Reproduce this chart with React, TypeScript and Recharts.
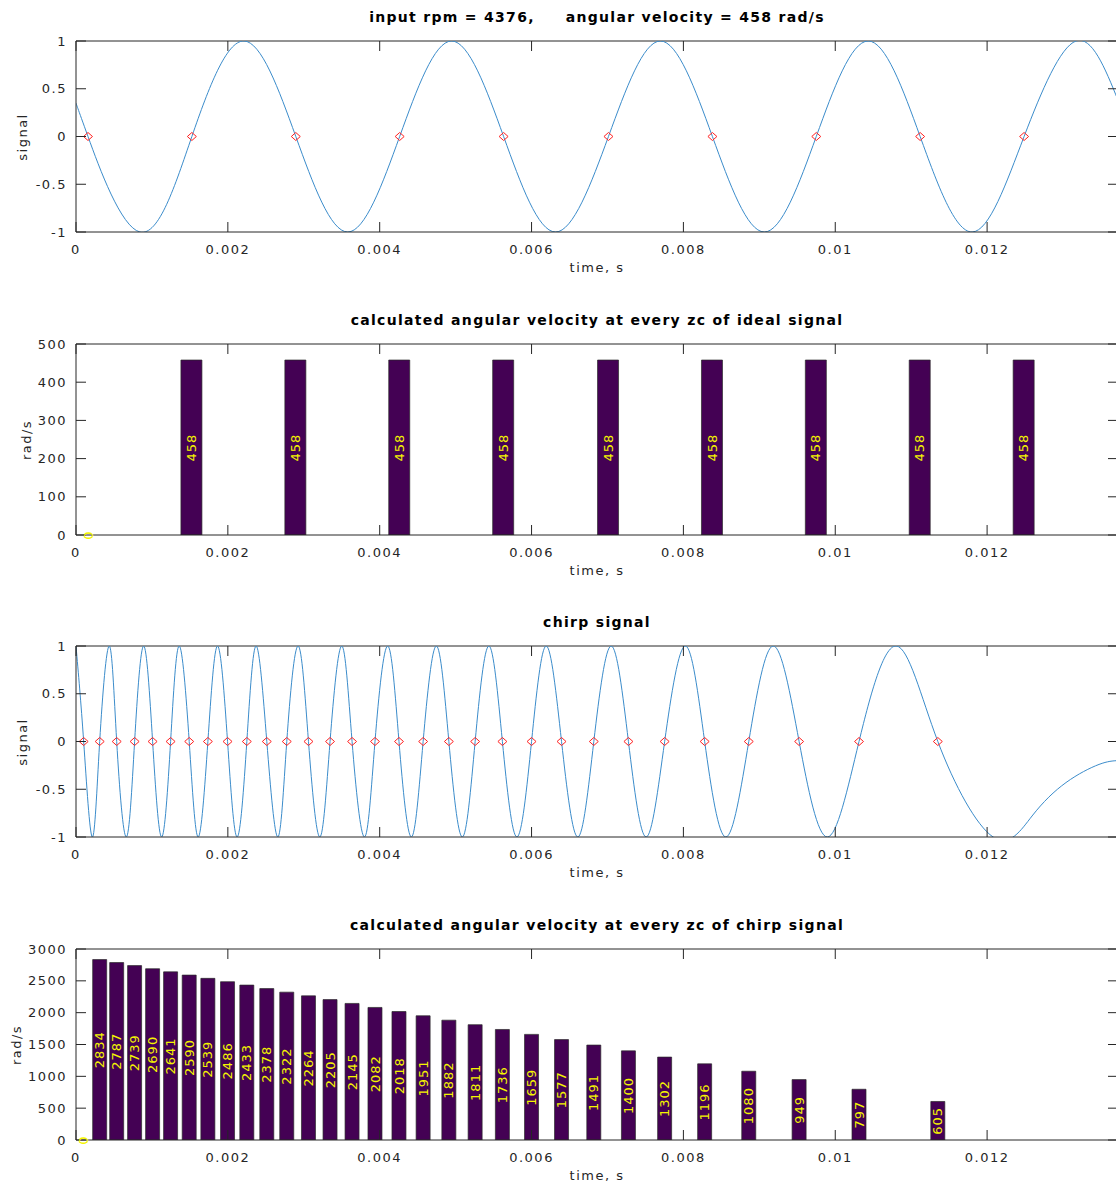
import React from "react";
import {
  ComposedChart,
  Line,
  Scatter,
  Bar,
  XAxis,
  YAxis,
  ReferenceLine,
  LabelList,
} from "recharts";

// shared time axis (seconds)
const timeTicks = [0, 0.002, 0.004, 0.006, 0.008, 0.01, 0.012];
const tMax = 0.013724;

// panel 1: ideal signal, extremes + zero crossings
const idealPeakT = [0, 0.000842, 0.002211, 0.003579, 0.004947, 0.006316, 0.007697, 0.009066, 0.010434, 0.011803, 0.013171, 0.013724];
const idealPeakV = [0.35, -1, 1, -1, 1, -1, 1, -1, 1, -1, 1, 0.38];
const idealZcT = [0.000158, 0.001526, 0.002895, 0.004263, 0.005632, 0.007013, 0.008382, 0.00975, 0.011118, 0.012487];
const signalTicks = [-1, -0.5, 0, 0.5, 1];

// panel 2: angular velocity at every zc of the ideal signal
const idealSpeed = [0, 458, 458, 458, 458, 458, 458, 458, 458, 458];
const idealSpeedTicks = [0, 100, 200, 300, 400, 500];

// panel 3: chirp signal
const chirpPeakT = [
  0, 0.000214, 0.000438, 0.000662, 0.000891, 0.001128, 0.001359, 0.001609,
  0.001864, 0.002122, 0.002372, 0.002658, 0.002925, 0.003211, 0.0035, 0.003799,
  0.004105, 0.004417, 0.004746, 0.005088, 0.005438, 0.005807, 0.006193, 0.006609,
  0.007049, 0.007509, 0.008026, 0.008559, 0.009184, 0.009895, 0.010803, 0.012079,
  0.012592, 0.013039, 0.013474, 0.013724,
];
const chirpPeakV = [
  1, -1, 1, -1, 1, -1, 1, -1,
  1, -1, 1, -1, 1, -1, 1, -1,
  1, -1, 1, -1, 1, -1, 1, -1,
  1, -1, 1, -1, 1, -1, 1, -1,
  -0.78, -0.43, -0.24, -0.2,
];
const chirpZcT = [
  0.000101, 0.000312, 0.000536, 0.000772, 0.001009, 0.001246, 0.001491, 0.001737,
  0.001996, 0.00225, 0.002513, 0.002776, 0.003062, 0.003346, 0.003636, 0.003938,
  0.004254, 0.004572, 0.004911, 0.005257, 0.005616, 0.006, 0.006395, 0.00682,
  0.007276, 0.007753, 0.00828, 0.008861, 0.009524, 0.010313, 0.011351,
];

// panel 4: angular velocity at every zc of the chirp
const chirpSpeed = [
  0, 2834, 2787, 2739, 2690, 2641, 2590, 2539, 2486, 2433, 2378, 2322, 2264,
  2205, 2145, 2082, 2018, 1951, 1882, 1811, 1736, 1659, 1577, 1491, 1400, 1302,
  1196, 1080, 949, 797, 605,
];
const chirpSpeedTicks = [0, 500, 1000, 1500, 2000, 2500, 3000];

const AX = "#262626";
const FONT = "DejaVu Sans";
const PLOT_W = 1042;
const PLOT_H = 191;
const MT = 14;
const XAXIS_H = 40;
const CHART_W = 76 + PLOT_W;
const CHART_H = MT + PLOT_H + XAXIS_H;

const textStyle = { fontFamily: FONT, fontSize: 13, letterSpacing: 1.5 };
const labelStyle = { fontFamily: FONT, fontSize: 13, letterSpacing: 1 };

function lineData(pt: number[], pv: number[], zt: number[]) {
  return [
    ...pt.map((t, i) => ({ t, v: pv[i] })),
    ...zt.map((t) => ({ t, v: 0 })),
  ].sort((a, b) => a.t - b.t);
}

const zcData = (zt: number[]) => zt.map((t) => ({ t, v: 0 }));
const barData = (zt: number[], w: number[]) => zt.map((t, i) => ({ t, w: w[i] }));

// inward ticks on both bottom and top borders
function XTick(props: any) {
  const { x, y, payload } = props;
  const axisY = y - 17;
  return (
    <g>
      <line x1={x} x2={x} y1={axisY} y2={axisY - 10} stroke={AX} />
      <line x1={x} x2={x} y1={axisY - PLOT_H} y2={axisY - PLOT_H + 10} stroke={AX} />
      <text x={x} y={y} textAnchor="middle" dominantBaseline="central" fill={AX} style={textStyle}>
        {String(payload.value)}
      </text>
    </g>
  );
}

// inward ticks on left and right borders
function YTick(props: any) {
  const { x, y, payload } = props;
  const axisX = x + 9;
  return (
    <g>
      <line x1={axisX} x2={axisX + 10} y1={y} y2={y} stroke={AX} />
      <line x1={axisX + PLOT_W} x2={axisX + PLOT_W - 10} y1={y} y2={y} stroke={AX} />
      <text x={x} y={y} textAnchor="end" dominantBaseline="central" fill={AX} style={textStyle}>
        {String(payload.value)}
      </text>
    </g>
  );
}

function Diamond(p: any) {
  const { cx, cy } = p;
  return (
    <path
      d={`M${cx - 4.5},${cy} L${cx},${cy - 4} L${cx + 4.5},${cy} L${cx},${cy + 4} Z`}
      fill="none"
      stroke="#ff2020"
      strokeWidth={1}
    />
  );
}

const NoShape = () => <g />;

function Overlay({ top, title, ylabel, ylabelX }: { top: number; title: string; ylabel: string; ylabelX: number }) {
  const base: React.CSSProperties = {
    position: "absolute",
    transform: "translate(-50%, -50%)",
    whiteSpace: "pre",
    lineHeight: 1,
    fontFamily: FONT,
    color: AX,
  };
  return (
    <>
      <div style={{ ...base, left: 597, top: top - 24, fontSize: 14, fontWeight: "bold", letterSpacing: 1.3, color: "#000" }}>
        {title}
      </div>
      <div style={{ ...base, left: 597, top: top + PLOT_H + 35, fontSize: 13, letterSpacing: 1.5 }}>time, s</div>
      <div
        style={{
          ...base,
          left: ylabelX,
          top: top + PLOT_H / 2,
          fontSize: 13,
          letterSpacing: 1.5,
          transform: "translate(-50%, -50%) rotate(-90deg)",
        }}
      >
        {ylabel}
      </div>
    </>
  );
}

const xAxisEl = (
  <XAxis
    dataKey="t"
    type="number"
    domain={[0, tMax]}
    ticks={timeTicks}
    interval={0}
    allowDataOverflow
    height={XAXIS_H}
    tickSize={0}
    tickMargin={17}
    stroke={AX}
    tick={<XTick />}
  />
);

function SignalPanel({ top, pt, pv, zt }: { top: number; pt: number[]; pv: number[]; zt: number[] }) {
  return (
    <div style={{ position: "absolute", left: 0, top: top - MT }}>
      <ComposedChart width={CHART_W} height={CHART_H} data={lineData(pt, pv, zt)} margin={{ top: MT, right: 0, bottom: 0, left: 0 }}>
        {xAxisEl}
        <YAxis
          type="number"
          domain={[-1, 1]}
          ticks={signalTicks}
          interval={0}
          allowDataOverflow
          width={76}
          tickSize={0}
          tickMargin={9}
          stroke={AX}
          tick={<YTick />}
        />
        <ReferenceLine y={1} stroke={AX} />
        <Line
          dataKey="v"
          type="natural"
          stroke="#3b8ccb"
          strokeWidth={1}
          dot={false}
          isAnimationActive={false}
        />
        <Scatter data={zcData(zt)} dataKey="v" shape={<Diamond />} isAnimationActive={false} />
      </ComposedChart>
    </div>
  );
}

function SpeedPanel({ top, zt, w, yTicks, barSize }: { top: number; zt: number[]; w: number[]; yTicks: number[]; barSize: number }) {
  const yMax = yTicks[yTicks.length - 1];
  const rows = barData(zt, w);
  // zero-height bars get no label from the Bar itself, so label them here
  const zeroRows = rows.filter((r) => r.w === 0);
  return (
    <div style={{ position: "absolute", left: 0, top: top - MT }}>
      <ComposedChart width={CHART_W} height={CHART_H} data={rows} margin={{ top: MT, right: 0, bottom: 0, left: 0 }}>
        {xAxisEl}
        <YAxis
          type="number"
          domain={[0, yMax]}
          ticks={yTicks}
          interval={0}
          allowDataOverflow
          width={76}
          tickSize={0}
          tickMargin={9}
          stroke={AX}
          tick={<YTick />}
        />
        <ReferenceLine y={yMax} stroke={AX} />
        <Bar dataKey="w" barSize={barSize} fill="#440154" stroke="#2a2a2a" strokeWidth={0.7} isAnimationActive={false}>
          <LabelList dataKey="w" position="center" angle={-90} fill="#f5f500" style={labelStyle} />
        </Bar>
        <Scatter data={zeroRows} dataKey="w" shape={<NoShape />} isAnimationActive={false}>
          <LabelList dataKey="w" position="center" angle={-90} fill="#f5f500" style={labelStyle} />
        </Scatter>
      </ComposedChart>
    </div>
  );
}

export default function App() {
  return (
    <div
      style={{
        position: "fixed",
        left: 0,
        top: 0,
        width: 1116,
        height: 1184,
        overflow: "hidden",
        background: "#fff",
      }}
    >
      <SignalPanel top={41} pt={idealPeakT} pv={idealPeakV} zt={idealZcT} />
      <Overlay top={41} title={"input rpm = 4376,     angular velocity = 458 rad/s"} ylabel="signal" ylabelX={22} />

      <SpeedPanel top={344} zt={idealZcT} w={idealSpeed} yTicks={idealSpeedTicks} barSize={21} />
      <Overlay top={344} title="calculated angular velocity at every zc of ideal signal" ylabel="rad/s" ylabelX={26} />

      <SignalPanel top={646} pt={chirpPeakT} pv={chirpPeakV} zt={chirpZcT} />
      <Overlay top={646} title="chirp signal" ylabel="signal" ylabelX={22} />

      <SpeedPanel top={949} zt={chirpZcT} w={chirpSpeed} yTicks={chirpSpeedTicks} barSize={14} />
      <Overlay top={949} title="calculated angular velocity at every zc of chirp signal" ylabel="rad/s" ylabelX={16} />
    </div>
  );
}
